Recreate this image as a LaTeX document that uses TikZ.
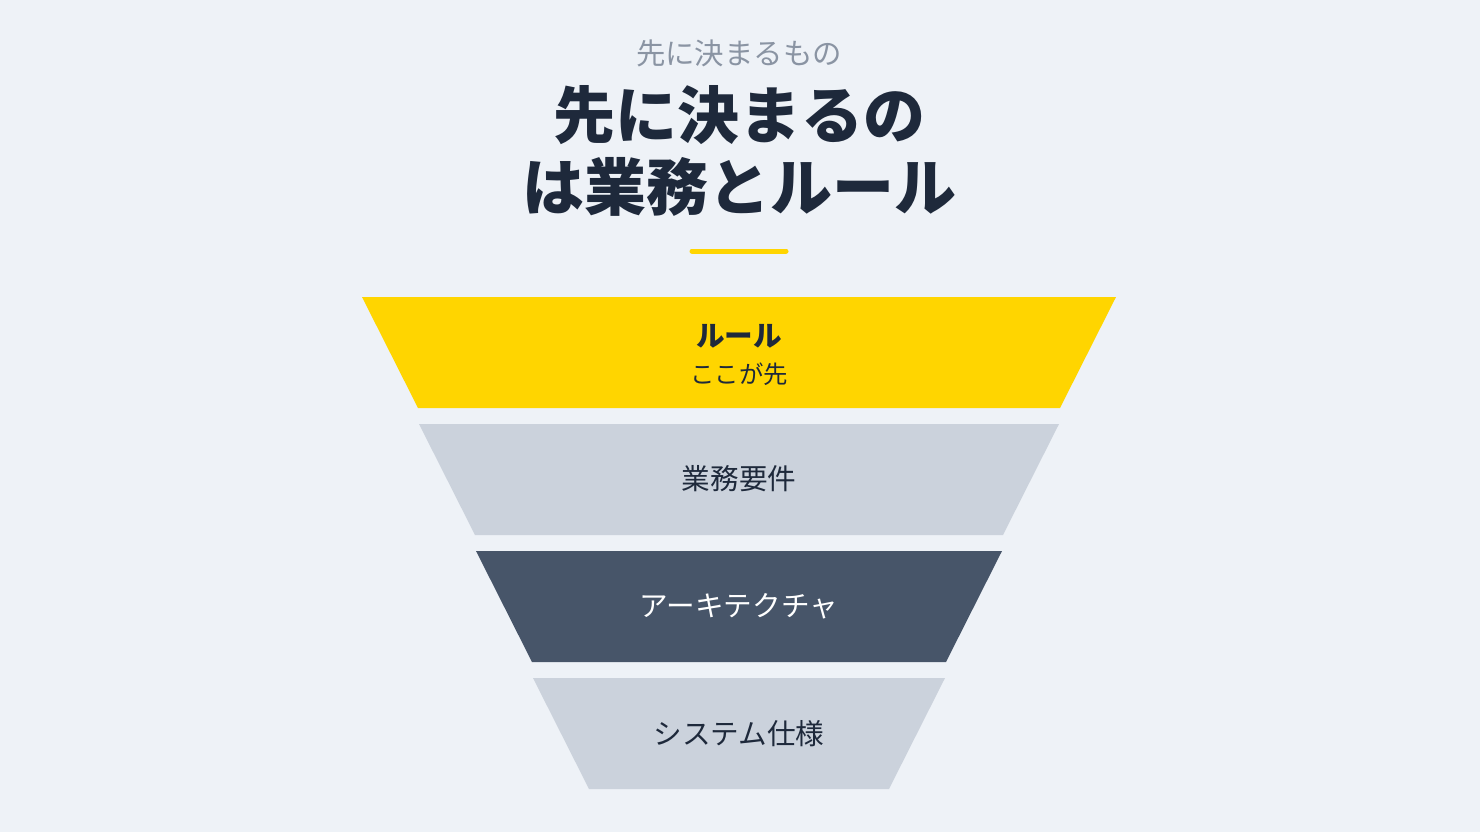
\documentclass[tikz,border=0pt]{standalone}
\usepackage{fontspec}
\setmainfont{Noto Sans CJK JP}
\usetikzlibrary{positioning}

\definecolor{pagebg}{HTML}{EEF2F7}
\definecolor{ink}{HTML}{1E293B}
\definecolor{subgray}{HTML}{8A94A3}
\definecolor{accent}{HTML}{FFD500}
\definecolor{layergray}{HTML}{CBD2DC}
\definecolor{slate}{HTML}{475569}

\begin{document}
\begin{tikzpicture}[x=0.5pt, y=-0.5pt,
    layertext/.style={text=ink, font=\fontsize{14.3}{17}\selectfont}]

    % background and page size
    \fill[pagebg] (0,0) rectangle (1480,832);
    \useasboundingbox (0,0) rectangle (1480,832);

    %-----Heading-----
    \node[text=subgray, font=\fontsize{14.7}{17}\selectfont] (sub) at (739,53) {先に決まるもの};
    \node[text=ink, font=\bfseries\fontsize{31}{36}\selectfont, align=center] (title) at (739,151) {先に決まるの\\は業務とルール};
    \draw[accent, line width=2.5pt, line cap=round] (692,251) -- (786,251);

    %-----Funnel layers-----
    \foreach \k/\col in {0/accent, 1/layergray, 2/slate, 3/layergray}{
        \fill[\col] ({362+57*\k},{297+127*\k}) -- ({1116-57*\k},{297+127*\k})
            -- ({1060-57*\k},{408+127*\k}) -- ({418+57*\k},{408+127*\k}) -- cycle;
    }

    % Layer labels
    \node[layertext, font=\bfseries\fontsize{14.3}{17}\selectfont] (rule) at (739,336) {ルール};
    \node[layertext, font=\fontsize{12.2}{14}\selectfont] (first) at (739,374) {ここが先};
    \node[layertext] (biz) at (739,479) {業務要件};
    \node[layertext, text=white] (arch) at (739,606) {アーキテクチャ};
    \node[layertext] (spec) at (739,734) {システム仕様};

\end{tikzpicture}
\end{document}
